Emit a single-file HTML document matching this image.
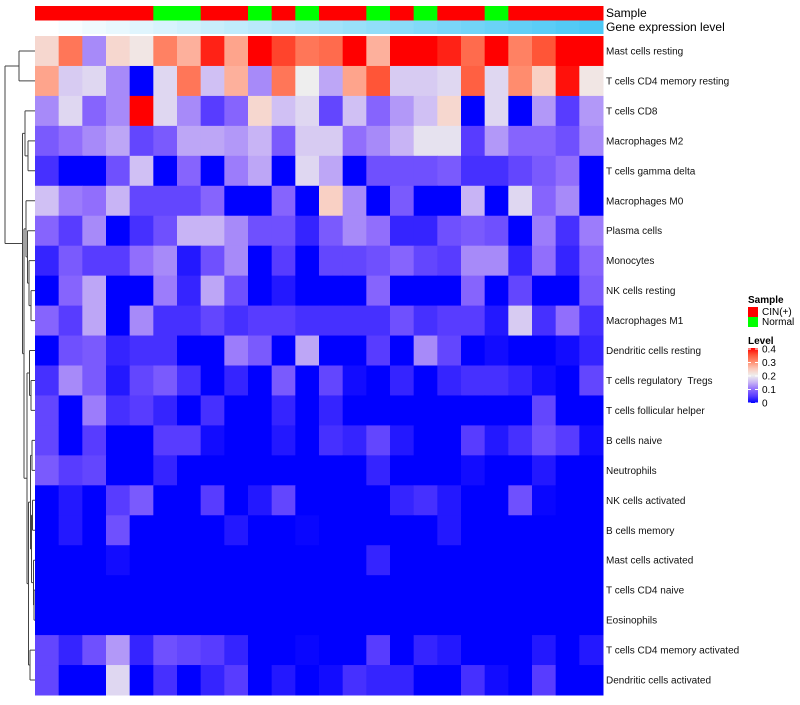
<!DOCTYPE html>
<html><head><meta charset="utf-8"><style>
body{margin:0;background:#fff;width:800px;height:700px;overflow:hidden;font-family:"Liberation Sans",sans-serif}
text{white-space:pre}
</style></head><body>
<svg id="chart" width="800" height="700" xmlns="http://www.w3.org/2000/svg" font-family="Liberation Sans, sans-serif"></svg>
<script>
const rowLabels=["Mast cells resting","T cells CD4 memory resting","T cells CD8","Macrophages M2","T cells gamma delta","Macrophages M0","Plasma cells","Monocytes","NK cells resting","Macrophages M1","Dendritic cells resting","T cells regulatory  Tregs","T cells follicular helper","B cells naive","Neutrophils","NK cells activated","B cells memory","Mast cells activated","T cells CD4 naive","Eosinophils","T cells CD4 memory activated","Dendritic cells activated"];
const sampleGroups=["CIN","CIN","CIN","CIN","CIN","Normal","Normal","CIN","CIN","Normal","CIN","Normal","CIN","CIN","Normal","CIN","Normal","CIN","CIN","Normal","CIN","CIN","CIN","CIN"];
const r1=[0.23,0.32,0.12,0.23,0.21,0.31,0.27,0.38,0.28,0.42,0.36,0.32,0.33,0.42,0.27,0.42,0.42,0.38,0.33,0.42,0.31,0.35,0.42,0.42];
const r2=[0.28,0.17,0.18,0.12,0,0.18,0.32,0.16,0.27,0.12,0.32,0.2,0.14,0.28,0.35,0.17,0.17,0.18,0.34,0.18,0.3,0.24,0.39,0.21];
const r3=[0.12,0.18,0.09,0.12,0.42,0.18,0.12,0.05,0.09,0.23,0.16,0.18,0.06,0.16,0.09,0.13,0.16,0.23,0,0.18,0,0.13,0.05,0.13];
const r4=[0.08,0.1,0.12,0.14,0.06,0.08,0.14,0.14,0.13,0.15,0.08,0.17,0.17,0.1,0.12,0.15,0.19,0.19,0.05,0.13,0.09,0.09,0.07,0.12];
const r5=[0.04,0,0,0.07,0.16,0,0.09,0,0.11,0.14,0,0.18,0.14,0,0.07,0.07,0.07,0.08,0.04,0.04,0.06,0.08,0.1,0];
const r6=[0.16,0.11,0.1,0.15,0.06,0.06,0.06,0.09,0,0,0.09,0,0.24,0.12,0,0.08,0,0,0.15,0,0.18,0.09,0.12,0];
const r7=[0.09,0.05,0.12,0,0.04,0.07,0.15,0.15,0.12,0.07,0.07,0.03,0.08,0.12,0.1,0.03,0.03,0.07,0.08,0.07,0,0.11,0.04,0.11];
const r8=[0.03,0.08,0.05,0.05,0.1,0.12,0.02,0.07,0.12,0,0.05,0,0.06,0.06,0.07,0.09,0.06,0.05,0.12,0.12,0.03,0.1,0.03,0.09];
const r9=[0,0.09,0.14,0,0,0.11,0.03,0.14,0.07,0,0.02,0,0,0,0.09,0,0,0,0.09,0,0.06,0,0,0.08];
const r10=[0.09,0.05,0.14,0,0.12,0.04,0.04,0.06,0.04,0.05,0.05,0.04,0.04,0.04,0.04,0.07,0.04,0.05,0.05,0.02,0.17,0.04,0.1,0.04];
const r11=[0,0.07,0.08,0.03,0.04,0.04,0,0,0.11,0.08,0,0.14,0,0,0.05,0,0.12,0.06,0,0.01,0,0,0.01,0.03];
const r12=[0.04,0.12,0.08,0.02,0.06,0.08,0.04,0,0.03,0,0.08,0,0.06,0.01,0,0.03,0,0.03,0.04,0.04,0.03,0.01,0,0.06];
const r13=[0.06,0,0.11,0.04,0.05,0.03,0,0.04,0,0,0.03,0,0.03,0,0,0,0,0,0,0,0,0.06,0,0];
const r14=[0.06,0,0.05,0,0,0.05,0.05,0.01,0,0,0.02,0,0.04,0.03,0.06,0.02,0,0,0.05,0.02,0.04,0.07,0.05,0.01];
const r15=[0.08,0.05,0.06,0,0,0.03,0,0,0,0,0,0,0,0,0.03,0,0,0,0.01,0,0,0.02,0,0];
const r16=[0,0.02,0,0.05,0.08,0,0,0.05,0,0.02,0.06,0,0,0,0,0.03,0.04,0.02,0,0,0.07,0.005,0,0];
const r17=[0,0.02,0,0.07,0,0,0,0,0.02,0,0,0.005,0,0,0,0,0,0.02,0,0,0,0,0,0];
const r18=[0,0,0,0.01,0,0,0,0,0,0,0,0,0,0,0.03,0,0,0,0,0,0,0,0,0];
const r19=[0,0,0,0,0,0,0,0,0,0,0,0,0,0,0,0,0,0,0,0,0,0,0,0];
const r20=[0,0,0,0,0,0,0,0,0,0,0,0,0,0,0,0,0,0,0,0,0,0,0,0];
const r21=[0.06,0.03,0.07,0.13,0.03,0.07,0.06,0.05,0.03,0,0,0.005,0,0,0.05,0,0.03,0.02,0,0,0,0.02,0,0.02];
const r22=[0.06,0,0,0.18,0,0.04,0,0.03,0.05,0,0.02,0,0.01,0.04,0.03,0.03,0,0,0.04,0.01,0,0.05,0,0];
const values=[r1,r2,r3,r4,r5,r6,r7,r8,r9,r10,r11,r12,r13,r14,r15,r16,r17,r18,r19,r20,r21,r22];
const legendTicks=[0,0.1,0.2,0.3,0.4];

const NS="http://www.w3.org/2000/svg";
const svg=document.getElementById('chart');
function mk(t,a,p){const e=document.createElementNS(NS,t);for(const k in a)e.setAttribute(k,a[k]);(p||svg).appendChild(e);return e;}
const X0=35,X1=603,Y0=36,Y1=695;
const nC=sampleGroups.length,nR=rowLabels.length;
const cw=(X1-X0)/nC,rh=(Y1-Y0)/nR;
const xs=i=>X0+i*cw, ys=j=>Y0+j*rh;
const stops=[[0,[0,0,255]],[0.05,[88,60,255]],[0.1,[145,110,252]],[0.15,[200,180,245]],[0.2,[238,238,238]],[0.25,[252,200,186]],[0.3,[255,140,110]],[0.35,[255,85,55]],[0.4,[255,0,0]]];
function col(v){v=Math.max(0,Math.min(0.4,v));for(let i=1;i<stops.length;i++){if(v<=stops[i][0]){const a=stops[i-1],b=stops[i],t=(v-a[0])/(b[0]-a[0]);const c=a[1].map((x,k)=>Math.round(x+(b[1][k]-x)*t));return `rgb(${c})`;}}return 'rgb(255,0,0)';}

for(let i=0;i<nC;i++){
  const s=mk('rect',{x:xs(i),y:6,width:cw+0.5,height:14.5,fill:sampleGroups[i]==="CIN"?"#ff0000":"#00ff00"});
  
  
  const t=i/(nC-1);
  const g=mk('rect',{x:xs(i),y:20.5,width:cw+0.5,height:13.5,fill:`rgb(${Math.round(255-(255-75)*t)},${Math.round(255-(255-200)*t)},${Math.round(255-(255-245)*t)})`});
  
  
}
let t1=mk('text',{x:606,y:17,'font-size':12});t1.textContent="Sample";

let t2=mk('text',{x:606,y:31,'font-size':12});t2.textContent="Gene expression level";


for(let j=0;j<nR;j++){
  for(let i=0;i<nC;i++){
    const r=mk('rect',{x:xs(i),y:ys(j),width:cw+0.5,height:rh+0.5,fill:col(values[j][i])});
    
    
  }
  const l=mk('text',{x:606,y:ys(j)+rh/2+3.5,'font-size':10,fill:'#111'});l.textContent=rowLabels[j];
  
  
}

const dg=mk('g',{stroke:'#444','stroke-width':1,fill:'none'});

const cy=j=>ys(j)+rh/2;
function merge(a,b,x){mk('path',{d:`M${a.x},${a.y}H${x}M${b.x},${b.y}H${x}M${x},${a.y}V${b.y}`},dg);return {x:x,y:(a.y+b.y)/2};}
const L=i=>({x:X0,y:cy(i)});
let A=merge(L(0),L(1),19);
let m45=merge(L(3),L(4),28);
let C=merge(L(2),m45,25);
let n89=merge(L(8),L(9),31);
let n789=merge(L(7),n89,29);
let n6789=merge(L(6),n789,27.5);
let E=merge(L(5),n6789,26);
let n1112=merge(L(11),L(12),31);
let n1013=merge(L(10),n1112,29.5);
let n1415=merge(L(13),L(14),32);
let n1617=merge(L(15),L(16),32.5);
let n1819=merge(L(18),L(19),34);
let n1720=merge(L(17),n1819,33.5);
let n1520=merge(n1617,n1720,31.5);
let n1420=merge(n1415,n1520,30.5);
let n2122=merge(L(20),L(21),30);
let n1422=merge(n1420,n2122,28.5);
let F=merge(n1013,n1422,27);
let D=merge(E,F,24);
let B=merge(C,D,22.5);
merge(A,B,5);

let lg=mk('g',{});
let ls=mk('text',{x:748,y:303,'font-size':10,'font-weight':'bold'},lg);ls.textContent="Sample";
const cats=[["CIN(+)","#ff0000"],["Normal","#00ff00"]];
cats.forEach((c,k)=>{
  const r=mk('rect',{x:748,y:307+k*10,width:10,height:10,fill:c[1]},lg);
  
  const t=mk('text',{x:762,y:315+k*10,'font-size':10},lg);t.textContent=c[0];
  
});
let lv=mk('text',{x:748,y:344,'font-size':10,'font-weight':'bold'},lg);lv.textContent="Level";
const defs=mk('defs',{});const grad=mk('linearGradient',{id:'lvl',x1:0,y1:1,x2:0,y2:0},defs);
for(let k=0;k<=8;k++){mk('stop',{offset:k/8,'stop-color':col(k*0.05)},grad);}
const cb=mk('rect',{x:748,y:348,width:10,height:55,fill:'url(#lvl)'},lg);

legendTicks.forEach(v=>{
  const y=403-v/0.4*54;
  mk('line',{x1:748,x2:751,y1:y,y2:y,stroke:'#fff'},lg);
  mk('line',{x1:755,x2:758,y1:y,y2:y,stroke:'#fff'},lg);
  const t=mk('text',{x:762,y:y+3.5,'font-size':10},lg);t.textContent=String(v);
  
});
</script>
</body></html>
